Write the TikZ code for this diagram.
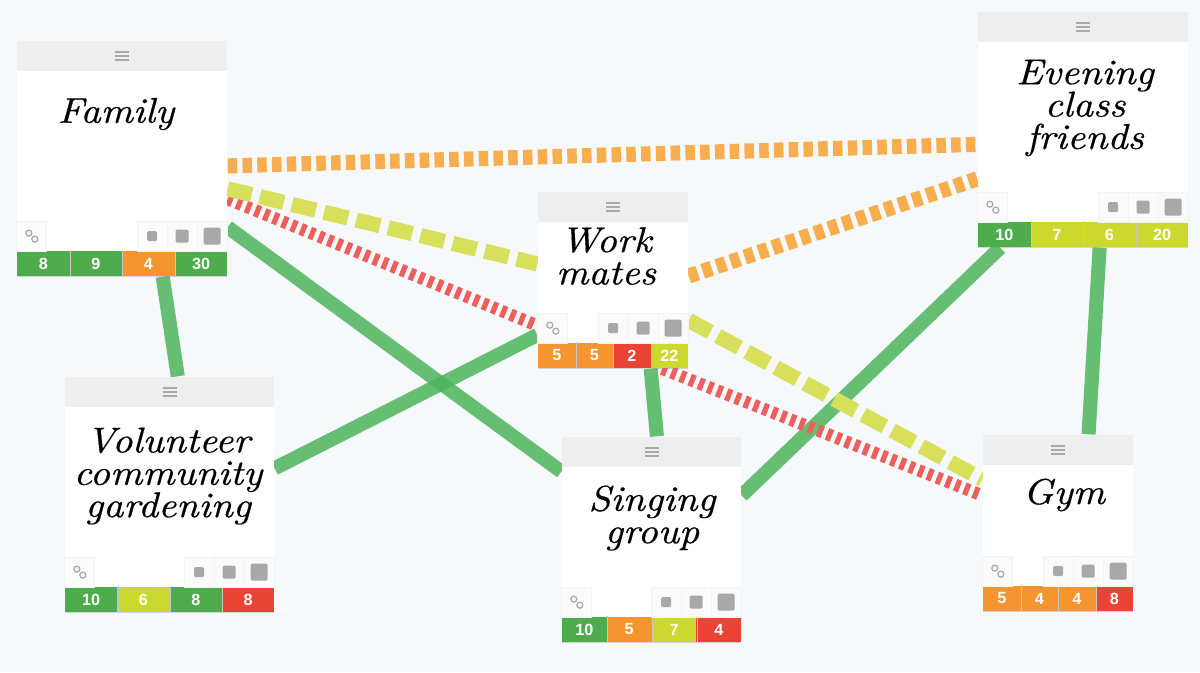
\documentclass[tikz,border=0pt]{standalone}
\usepackage{fontspec}
\setsansfont{Liberation Sans}
\newfontfamily\handfont[FakeStretch=1.1,FakeBold=0.5]{Latin Modern Roman}
\usepackage{xcolor}
\usetikzlibrary{positioning,calc,backgrounds,shadows}

\definecolor{pagebg}{HTML}{F5F9FB}
\definecolor{headbg}{HTML}{EEEEEE}
\definecolor{iconcol}{HTML}{A8A8A8}
\definecolor{btncol}{HTML}{FAFAFA}
\definecolor{barG}{HTML}{4FAC4C}
\definecolor{barO}{HTML}{F4952F}
\definecolor{barR}{HTML}{EB4335}
\definecolor{barL}{HTML}{CBD92F}
\definecolor{linkG}{HTML}{4DB45C}
\definecolor{linkO}{HTML}{F8AE4E}
\definecolor{linkL}{HTML}{D8DF5A}
\definecolor{linkR}{HTML}{EC5F5C}

\tikzset{
    card/.style={fill=white, inner sep=0pt, drop shadow={shadow xshift=0pt, shadow yshift=-0.4pt, opacity=.3}},
    cardhead/.style={fill=headbg, inner sep=0pt, minimum height=0.3cm},
    menuline/.style={draw=iconcol, line width=0.5pt},
    barcell/.style={inner sep=0pt, minimum height=0.25cm, text=white, font=\sffamily\bfseries\fontsize{4.6}{5}\selectfont},
    celledge/.style={draw=black!22, line width=0.25pt},
    toolbtn/.style={fill=btncol, draw=black!5, line width=0.3pt, inner sep=0pt, minimum size=0.3cm},
    sizedot/.style={fill=iconcol, rounded corners=0.4pt, inner sep=0pt},
    linkicon/.style={draw=iconcol, line width=0.35pt},
    title/.style={align=center, font={\handfont\itshape\fontsize{10.2}{9.2}\selectfont\lineskiplimit=-20pt\relax}},
    solidlink/.style={draw=linkG, line width=4pt, opacity=.85},
    orangelink/.style={draw=linkO, line width=4.3pt, dash pattern=on 2.7pt off 1.5pt},
    limelink/.style={draw=linkL, line width=4.3pt, dash pattern=on 7pt off 2.4pt},
    redlink/.style={draw=linkR, line width=3.5pt, dash pattern=on 1.5pt off 1.3pt}
}

% name, centre x, centre y, width, height, bar cells
\newcommand{\drawcard}[6]{
    \node[card, minimum width=#4*0.01cm, minimum height=#5*0.01cm] (#1) at (#2,#3) {};
    \node[cardhead, anchor=north, minimum width=#4*0.01cm] (#1-head) at (#1.north) {};
    \foreach \k in {-4,0,4}
        \draw[menuline] ([shift={(-7,\k)}]#1-head.center) -- ++(14,0);
    \foreach \c/\n [count=\i] in {#6} {
        \node[barcell, fill=\c, anchor=south west, minimum width=#4*0.0025cm] (#1-bar\i)
            at ([xshift={(\i-1)*#4*0.0025cm}]#1.south west) {\n};
    }
    \foreach \i in {1,2,3}
        \draw[celledge] (#1-bar\i.north east) -- (#1-bar\i.south east);
    \node[toolbtn, anchor=south west] (#1-link) at ([yshift=0.25cm]#1.south west) {};
    \draw[linkicon] ([shift={(-3,-3)}]#1-link.center) circle[radius=0.03cm];
    \draw[linkicon] ([shift={(3,3)}]#1-link.center) circle[radius=0.03cm];
    \foreach \s [count=\i] in {17,13,10} {
        \node[toolbtn, anchor=south east] (#1-size\i) at ([xshift={-(\i-1)*0.3cm},yshift=0.25cm]#1.south east) {};
        \node[sizedot, minimum size=\s*0.01cm] (#1-dot\i) at (#1-size\i.center) {};
    }
}

\begin{document}
\begin{tikzpicture}[x=0.01cm, y=-0.01cm]
    \useasboundingbox (0,0) rectangle (1200,672);

    \drawcard{family}{122}{158.5}{210}{235}{barG/8,barG/9,barO/4,barG/30}
    \drawcard{evening}{1083}{129.5}{210}{235}{barG/10,barL/7,barL/6,barL/20}
    \drawcard{work}{613}{280}{150}{176}{barO/5,barO/5,barR/2,barL/22}
    \drawcard{volunteer}{169.5}{494.5}{209}{235}{barG/10,barL/6,barG/8,barR/8}
    \drawcard{singing}{651.5}{539.5}{179}{205}{barG/10,barO/5,barL/7,barR/4}
    \drawcard{gym}{1058}{523}{150}{176}{barO/5,barO/4,barO/4,barR/8}

    \node[title] (family-title) at (116,114) {Family};
    \node[title] (evening-title) at (1085,108) {Evening\\class\\friends};
    \node[title] (work-title) at (606,256) {Work\\mates};
    \node[title] (volunteer-title) at (168,476) {Volunteer\\community\\gardening};
    \node[title] (singing-title) at (652,518) {Singing\\group};
    \node[title] (gym-title) at (1064,495) {Gym};

    % all links sit behind the cards
    \begin{scope}[on background layer]
        \fill[pagebg] (0,0) rectangle (1200,672);

        \draw[solidlink] (family.-71.2) -- (volunteer.86.8);
        \draw[solidlink] (family.-33.5) -- (singing.143);
        \draw[solidlink] (volunteer.14.7) -- (work.216.3);
        \draw[solidlink] (work.-67.2) -- (singing.87.5);
        \draw[solidlink] (singing.26.4) -- (evening.235.8);
        \draw[solidlink] (evening.-82.7) -- (gym.71.2);

        \draw[orangelink] (family.-4.6) -- (evening.188.4);
        \draw[orangelink] (work.3.8) -- (evening.205.7);

        \draw[redlink] (family.-21.6) -- (work.211);
        \draw[redlink] (work.-61.9) -- (gym.160.9);

        \draw[limelink] (family.-16.7) -- (work.168.7);
        \draw[limelink] (work.-28.1) -- (gym.150.2);
    \end{scope}
\end{tikzpicture}
\end{document}
